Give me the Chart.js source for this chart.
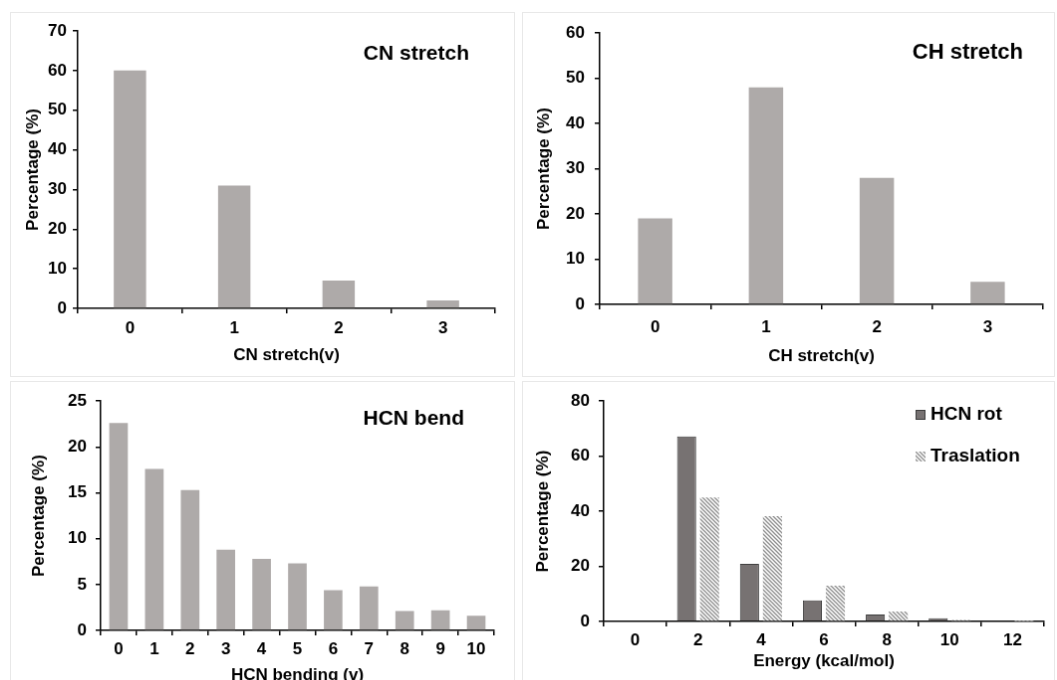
<!DOCTYPE html>
<html>
<head>
<meta charset="utf-8">
<script src="https://cdn.jsdelivr.net/npm/chart.js@4.4.1/dist/chart.umd.min.js"></script>
<style>
body { margin:0; background:#fff; width:1057px; height:680px; overflow:hidden; position:relative; }
canvas { position:absolute; border:1px solid #e8e8e8; }
</style>
</head>
<body>
<canvas id="cnChart" width="505" height="365" style="left:10px;top:12px"></canvas>
<canvas id="chChart" width="533" height="365" style="left:522px;top:12px"></canvas>
<canvas id="bendChart" width="505" height="308" style="left:10px;top:381px"></canvas>
<canvas id="energyChart" width="533" height="308" style="left:522px;top:381px"></canvas>
<script>
// values
const cnLabels = ['0', '1', '2', '3'];
const cnValues = [60, 31, 7, 2];

const chLabels = ['0', '1', '2', '3'];
const chValues = [19, 48, 28, 5];

const bendLabels = ['0', '1', '2', '3', '4', '5', '6', '7', '8', '9', '10'];
const bendValues = [22.6, 17.6, 15.3, 8.8, 7.8, 7.3, 4.4, 4.8, 2.1, 2.2, 1.6];

const energyLabels = ['0', '2', '4', '6', '8', '10', '12'];
const rotValues = [0, 67.2, 20.9, 7.7, 2.5, 1.2, 0.3];
const transValues = [0, 45, 38.2, 13, 3.6, 0.5, 0.1];

Chart.defaults.font.family = '"Liberation Sans", Arial, sans-serif';
Chart.defaults.font.weight = 'bold';
Chart.defaults.font.size = 17;
Chart.defaults.color = '#000';
Chart.defaults.animation = false;

const barGrey = '#aeaaa9';

function hatch() {
    let c = document.createElement('canvas');
    c.width = 4; c.height = 4;
    let g = c.getContext('2d');
    g.fillStyle = '#fff';
    g.fillRect(0, 0, 4, 4);
    g.strokeStyle = '#8e8e8e';
    g.lineWidth = 1.3;
    g.beginPath();
    g.moveTo(-1, -1); g.lineTo(5, 5);
    g.moveTo(-1, 3); g.lineTo(1, 5);
    g.moveTo(3, -1); g.lineTo(5, 1);
    g.stroke();
    return g.createPattern(c, 'repeat');
}

// text written inside the plot, e.g. "CN stretch"
const cornerText = {
    id: 'cornerText',
    afterDraw(chart, args, opts) {
        let ctx = chart.ctx;
        ctx.save();
        ctx.font = 'bold ' + opts.size + 'px "Liberation Sans", Arial, sans-serif';
        ctx.fillStyle = '#000';
        ctx.textAlign = 'right';
        ctx.textBaseline = 'middle';
        ctx.fillText(opts.text, opts.x, opts.y);
        ctx.restore();
    }
};

// small legend in the top right of the energy plot
const boxLegend = {
    id: 'boxLegend',
    afterDraw(chart, args, opts) {
        let ctx = chart.ctx;
        ctx.save();
        ctx.font = 'bold 19px "Liberation Sans", Arial, sans-serif';
        ctx.textBaseline = 'middle';
        chart.data.datasets.forEach(function(ds, i) {
            let y = opts.y + i * opts.gap;
            ctx.fillStyle = ds.backgroundColor;
            ctx.fillRect(opts.x, y - 5, 10, 10);
            if (ds.borderWidth) {
                ctx.strokeStyle = ds.borderColor;
                ctx.lineWidth = 1;
                ctx.strokeRect(opts.x + 0.5, y - 4.5, 9, 9);
            }
            ctx.fillStyle = '#000';
            ctx.fillText(ds.label, opts.x + 15, y);
        });
        ctx.restore();
    }
};

function makeScales(xTitle, xPad, xH, xTitlePad, yMax, yStep, yPad, yW, yTitlePad) {
    return {
        x: {
            grid: { drawOnChartArea: false, color: '#000', lineWidth: 1.5, tickLength: 5 },
            border: { color: '#000', width: 1.5 },
            ticks: { padding: xPad },
            title: { display: true, text: xTitle, padding: { top: 0, bottom: xTitlePad } },
            afterFit: function(s) { s.height = xH; }
        },
        y: {
            min: 0, max: yMax,
            grid: { drawOnChartArea: false, color: '#000', lineWidth: 1.5, tickLength: 5 },
            border: { color: '#000', width: 1.5 },
            ticks: { stepSize: yStep, padding: yPad },
            title: { display: true, text: 'Percentage (%)', padding: { top: yTitlePad, bottom: 0 } },
            afterFit: function(s) { s.width = yW; }
        }
    };
}

var cnChart = new Chart(document.getElementById('cnChart'), {
    type: 'bar',
    data: {
        labels: cnLabels,
        datasets: [{ label: 'CN stretch', data: cnValues, backgroundColor: barGrey,
            categoryPercentage: 1, barPercentage: 0.31 }]
    },
    options: {
        responsive: false,
        layout: { padding: { left: 8, top: 18, right: 19, bottom: 6 } },
        scales: makeScales('CN stretch(v)', 5, 62, 4, 70, 10, 6, 59, 4),
        plugins: {
            legend: { display: false }, tooltip: { enabled: false },
            cornerText: { text: 'CN stretch', x: 460, y: 41, size: 21 }
        }
    },
    plugins: [cornerText]
});

var chChart = new Chart(document.getElementById('chChart'), {
    type: 'bar',
    data: {
        labels: chLabels,
        datasets: [{ label: 'CH stretch', data: chValues, backgroundColor: barGrey,
            categoryPercentage: 1, barPercentage: 0.31 }]
    },
    options: {
        responsive: false,
        layout: { padding: { left: 8, top: 19, right: 11, bottom: 6 } },
        scales: makeScales('CH stretch(v)', 8, 66, 3, 60, 10, 10, 69, 3),
        plugins: {
            legend: { display: false }, tooltip: { enabled: false },
            cornerText: { text: 'CH stretch', x: 502, y: 40, size: 22 }
        }
    },
    plugins: [cornerText]
});

var bendChart = new Chart(document.getElementById('bendChart'), {
    type: 'bar',
    data: {
        labels: bendLabels,
        datasets: [{ label: 'HCN bend', data: bendValues, backgroundColor: barGrey,
            categoryPercentage: 1, barPercentage: 0.52 }]
    },
    options: {
        responsive: false,
        layout: { padding: { left: 8, top: 19, right: 20, bottom: 2 } },
        scales: makeScales('HCN bending (v)', 4, 56, 0, 25, 5, 9, 82, 10),
        plugins: {
            legend: { display: false }, tooltip: { enabled: false },
            cornerText: { text: 'HCN bend', x: 455, y: 37, size: 21 }
        }
    },
    plugins: [cornerText]
});

var energyChart = new Chart(document.getElementById('energyChart'), {
    type: 'bar',
    data: {
        labels: energyLabels,
        datasets: [{
            label: 'HCN rot', data: rotValues,
            backgroundColor: '#777272', borderColor: '#3c3c3c', borderWidth: 1,
            categoryPercentage: 0.73, barPercentage: 0.83
        }, {
            label: 'Traslation', data: transValues,
            backgroundColor: hatch(), borderWidth: 0,
            categoryPercentage: 0.73, barPercentage: 0.83
        }]
    },
    options: {
        responsive: false,
        layout: { padding: { left: 8, top: 13, right: 10, bottom: 6 } },
        scales: makeScales('Energy (kcal/mol)', 4, 61, 10, 80, 20, 9, 73, 2),
        plugins: {
            legend: { display: false }, tooltip: { enabled: false },
            boxLegend: { x: 394, y: 33, gap: 42 }
        }
    },
    plugins: [boxLegend]
});
</script>
</body>
</html>
